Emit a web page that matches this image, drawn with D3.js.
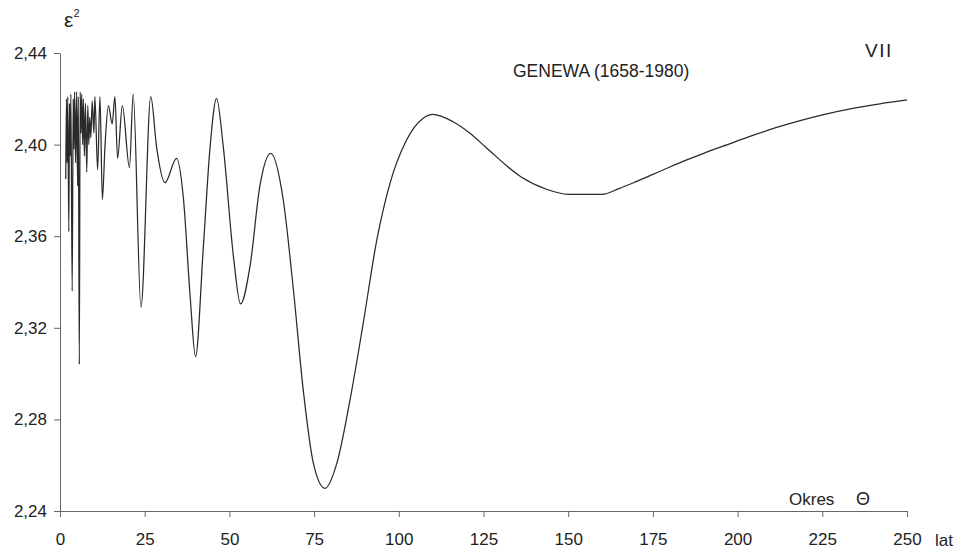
<!DOCTYPE html>
<html>
<head>
<meta charset="utf-8">
<script src="https://cdnjs.cloudflare.com/ajax/libs/d3/7.8.5/d3.min.js"></script>
<style>
  body { margin: 0; background: #fff; }
  svg text { font-family: "Liberation Sans", Arial, sans-serif; fill: #222; }
  .axis path, .axis line { stroke: #666; }
</style>
</head>
<body>
<div id="chart"></div>
<script>
// okres (lata) i wartosci eps^2
var periods = [
  1.7, 1.9, 2.1, 2.3, 2.6, 2.8, 3.0, 3.2, 3.6, 3.9, 4.1, 4.3, 4.6, 4.9, 5.2, 5.4,
  5.7, 5.95, 6.2, 6.4, 6.7, 6.9, 7.2, 7.5, 7.9, 8.2, 8.5, 8.8, 9.1, 9.5, 10.0, 10.3,
  11.1, 11.8, 12.5, 13.3, 14.3, 15.4, 16.2, 17.0, 18.4, 20.5, 21.6, 23.9, 26.8,
  28.5, 31.0, 34.4, 36.4, 38.4, 40.0, 42.3, 44.3, 46.2, 48.2, 51.2, 53.3, 56.1,
  59.0, 62.2, 65.9, 68.9, 71.8, 74.8, 78.2, 81.7, 85.6, 89.5, 93.5, 97.4, 102.3,
  107.2, 110, 116, 121, 126, 136, 143.6, 150, 155, 160, 165, 170, 175, 180, 185,
  190, 197, 204.5, 212, 219, 226, 234, 242, 250
];
var eps2 = [
  2.385, 2.420, 2.392, 2.421, 2.362, 2.418, 2.395, 2.422, 2.336, 2.420, 2.398, 2.423, 2.392, 2.423, 2.382, 2.421,
  2.304, 2.423, 2.405, 2.422, 2.400, 2.420, 2.395, 2.418, 2.388, 2.417, 2.400, 2.412, 2.403, 2.419, 2.405, 2.421,
  2.389, 2.421, 2.376, 2.400, 2.417, 2.409, 2.421, 2.394, 2.417, 2.390, 2.422, 2.329, 2.421,
  2.399, 2.3834, 2.394, 2.377, 2.334, 2.3074, 2.355, 2.399, 2.4202, 2.399, 2.351, 2.3304, 2.347,
  2.382, 2.3962, 2.3758, 2.3365, 2.2928, 2.2608, 2.2499, 2.2608, 2.2885, 2.322, 2.3583, 2.3831, 2.402,
  2.4115, 2.4132, 2.410, 2.405, 2.3984, 2.386, 2.3805, 2.3783, 2.3783, 2.3783, 2.3808, 2.3838, 2.3870, 2.3902, 2.3933,
  2.3962, 2.4000, 2.4040, 2.4077, 2.4107, 2.4133, 2.4158, 2.4178, 2.4195
];
var xTicks = [0, 25, 50, 75, 100, 125, 150, 175, 200, 225, 250];
var yTicks = [2.24, 2.28, 2.32, 2.36, 2.40, 2.44];

var data = periods.map(function(p, i) { return {p: p, v: eps2[i]}; });

var svgWidth = 962;
var svgHeight = 551;
var margin = { top: 53, right: 55, bottom: 40, left: 60 };
var width = 907 - margin.left;
var height = 511 - margin.top;

var svg = d3.select("#chart").append("svg")
    .attr("width", svgWidth)
    .attr("height", svgHeight);

var chartGroup = svg.append("g")
    .attr("transform", `translate(${margin.left}, ${margin.top})`);

var xScale = d3.scaleLinear().domain([0, 250]).range([0, width]);
var yScale = d3.scaleLinear().domain([2.24, 2.44]).range([height, 0]);

var comma = function(d) { return d3.format(".2f")(d).replace(".", ","); };

// osie
chartGroup.append("g")
    .attr("class", "axis")
    .attr("transform", `translate(0, ${height})`)
    .call(d3.axisBottom(xScale).tickValues(xTicks).tickSize(6).tickPadding(16).tickSizeOuter(0))
    .selectAll("text").attr("font-size", "17px").attr("fill", "#222");

chartGroup.append("g")
    .attr("class", "axis")
    .call(d3.axisLeft(yScale).tickValues(yTicks).tickFormat(comma).tickSize(6).tickPadding(7).tickSizeOuter(0))
    .selectAll("text").attr("font-size", "17px").attr("fill", "#222");

svg.selectAll(".axis text").style("font-family", "Liberation Sans, Arial, sans-serif");

// krzywa
var line = d3.line()
    .x(d => xScale(d.p))
    .y(d => yScale(d.v))
    .curve(d3.curveMonotoneX);

chartGroup.append("path")
    .datum(data)
    .attr("fill", "none")
    .attr("stroke", "#2a2a2a")
    .attr("stroke-width", 1.25)
    .attr("d", line);

// opisy
var eps = svg.append("text").attr("x", 64).attr("y", 27).attr("font-size", "21px");
eps.append("tspan").text("ε");
eps.append("tspan").attr("font-size", "11px").attr("dy", -10).text("2");

svg.append("text")
    .attr("x", 513).attr("y", 77)
    .attr("font-size", "17.5px")
    .text("GENEWA (1658-1980)");

svg.append("text")
    .attr("x", 865).attr("y", 57)
    .attr("font-size", "19px")
    .attr("letter-spacing", "1.5px")
    .text("VII");

svg.append("text")
    .attr("x", 789).attr("y", 505)
    .attr("font-size", "17px")
    .text("Okres");

svg.append("text")
    .attr("x", 856).attr("y", 505)
    .attr("font-size", "18px")
    .text("Θ");

svg.append("text")
    .attr("x", 935).attr("y", 546)
    .attr("font-size", "17px")
    .text("lat");
</script>
</body>
</html>
